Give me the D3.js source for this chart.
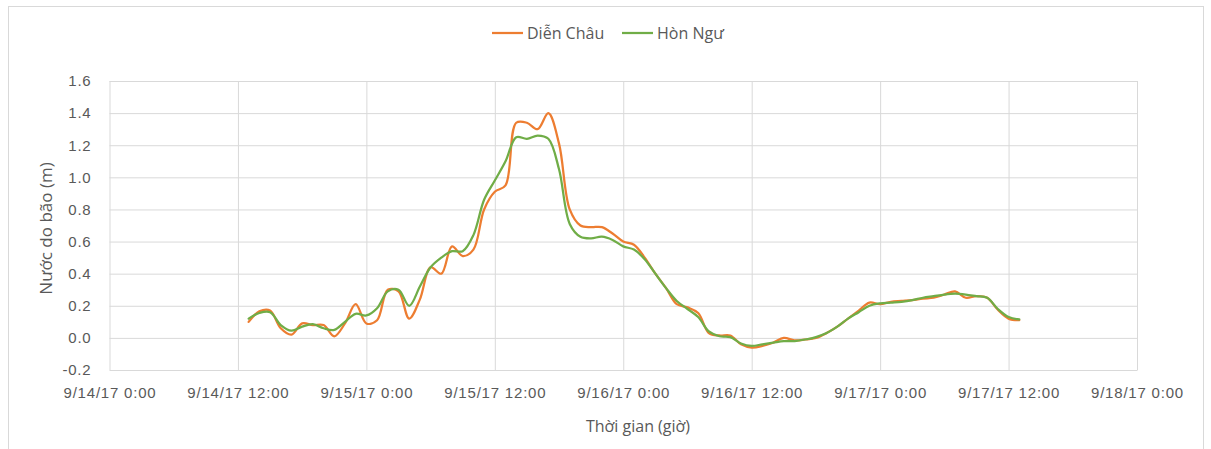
<!DOCTYPE html>
<html>
<head>
<meta charset="utf-8">
<script src="https://cdn.jsdelivr.net/npm/d3@7"></script>
<style>
  body { margin: 0; background: #fff; }
  svg { display: block; font-family: "Open Sans", sans-serif; }
</style>
</head>
<body>
<div id="chart-container"></div>
<script>
const W = 1211, H = 449;
const margin = { top: 81, right: 74, bottom: 79, left: 109.5 };
const width = W - margin.left - margin.right;
const height = H - margin.top - margin.bottom;

// hours counted from 9/14/17 0:00
const hours = [13, 14, 15, 16, 17, 18, 19, 20, 21, 22, 23, 24, 25, 26, 27, 28, 29, 30, 31, 32,
  33, 34, 35, 36, 37, 38, 39, 40, 41, 42, 43, 44, 45, 46, 47, 48, 49, 50, 51, 52,
  53, 54, 55, 56, 57, 58, 59, 60, 61, 62, 63, 64, 65, 66, 67, 68, 69, 70, 71, 72,
  73, 74, 75, 76, 77, 78, 79, 80, 81, 82, 83, 84, 85];

const dienChau = [0.10, 0.165, 0.17, 0.06, 0.02, 0.09, 0.08, 0.08, 0.01, 0.09, 0.21, 0.09, 0.11, 0.30, 0.29, 0.12, 0.24, 0.44, 0.40, 0.57,
  0.51, 0.55, 0.80, 0.91, 0.95, 1.34, 1.34, 1.30, 1.40, 1.21, 0.80, 0.70, 0.69, 0.69, 0.65, 0.60, 0.58, 0.50, 0.40, 0.31,
  0.21, 0.19, 0.155, 0.03, 0.015, 0.015, -0.04, -0.06, -0.05, -0.03, 0.00, -0.015, -0.01, 0.00, 0.03, 0.07, 0.12, 0.17, 0.22, 0.21,
  0.225, 0.23, 0.235, 0.245, 0.25, 0.27, 0.29, 0.25, 0.26, 0.25, 0.175, 0.12, 0.11];

const honNgu = [0.12, 0.155, 0.16, 0.08, 0.045, 0.07, 0.085, 0.06, 0.05, 0.10, 0.15, 0.14, 0.185, 0.29, 0.30, 0.20, 0.32, 0.44, 0.50, 0.54,
  0.54, 0.64, 0.86, 0.98, 1.10, 1.25, 1.24, 1.26, 1.24, 1.05, 0.71, 0.63, 0.62, 0.63, 0.61, 0.57, 0.55, 0.49, 0.40, 0.31,
  0.23, 0.18, 0.13, 0.04, 0.01, 0.005, -0.035, -0.05, -0.04, -0.03, -0.02, -0.02, -0.01, 0.005, 0.03, 0.07, 0.12, 0.16, 0.20, 0.215,
  0.22, 0.225, 0.235, 0.25, 0.26, 0.27, 0.275, 0.27, 0.26, 0.25, 0.18, 0.13, 0.115];

const seriesNames = ["Diễn Châu", "Hòn Ngư"];
const colors = ["#ED7D31", "#70AD47"];
const yTicks = [-0.2, 0, 0.2, 0.4, 0.6, 0.8, 1.0, 1.2, 1.4, 1.6];
const xTicks = ["2017-09-14T00:00", "2017-09-14T12:00", "2017-09-15T00:00", "2017-09-15T12:00", "2017-09-16T00:00",
  "2017-09-16T12:00", "2017-09-17T00:00", "2017-09-17T12:00", "2017-09-18T00:00"];

const parse = d3.timeParse("%Y-%m-%dT%H:%M");
const start = parse(xTicks[0]);
const tickDates = xTicks.map(parse);

const x = d3.scaleTime().domain([tickDates[0], tickDates[tickDates.length - 1]]).range([0, width]);
const y = d3.scaleLinear().domain([-0.2, 1.6]).range([height, 0]);

const svg = d3.select("#chart-container")
  .append("svg")
    .attr("width", W)
    .attr("height", H);

// chart area border
svg.append("rect")
  .attr("x", 8.5).attr("y", 6.5)
  .attr("width", 1195).attr("height", 470)
  .attr("fill", "none")
  .attr("stroke", "#D9D9D9");

const g = svg.append("g")
  .attr("transform", `translate(${margin.left},${margin.top})`);

const yAxis = g.append("g")
  .call(d3.axisLeft(y).tickValues(yTicks).tickSize(-width).tickSizeOuter(0).tickPadding(18)
    .tickFormat(d => d.toFixed(1)));
yAxis.select(".domain").remove();

const xAxis = g.append("g")
  .attr("transform", `translate(0,${height})`)
  .call(d3.axisBottom(x).tickValues(tickDates).tickSize(-height).tickSizeOuter(0).tickPadding(17)
    .tickFormat(d3.timeFormat("%-m/%-d/%y %-H:%M")));

g.selectAll(".tick line").attr("stroke", "#D9D9D9");
xAxis.select(".domain").attr("stroke", "#D9D9D9");
g.selectAll(".tick text")
  .attr("fill", "#595959")
  .style("font-size", "15px")
  .style("letter-spacing", "0.8px");

const line = d3.line()
  .x((d, i) => x(d3.timeHour.offset(start, hours[i])))
  .y(d => y(d))
  .curve(d3.curveCatmullRom);

[dienChau, honNgu].forEach((vals, k) => {
  g.append("path")
    .datum(vals)
    .attr("fill", "none")
    .attr("stroke", colors[k])
    .attr("stroke-width", 2.25)
    .attr("stroke-linejoin", "round")
    .attr("stroke-linecap", "round")
    .attr("d", line);
});

// axis titles
svg.append("text")
  .attr("transform", `translate(52,${margin.top + height / 2 + 3}) rotate(-90)`)
  .attr("text-anchor", "middle")
  .attr("fill", "#595959")
  .style("font-size", "17px")
  .text("Nước do bão (m)");

svg.append("text")
  .attr("x", 638)
  .attr("y", 432)
  .attr("text-anchor", "middle")
  .attr("fill", "#595959")
  .style("font-size", "16px")
  .text("Thời gian (giờ)");

// legend
const legendX = [492, 622];
seriesNames.forEach((name, k) => {
  const lg = svg.append("g").attr("transform", `translate(${legendX[k]},33)`);
  lg.append("line")
    .attr("x1", 0).attr("x2", 31)
    .attr("stroke", colors[k])
    .attr("stroke-width", 2.25);
  lg.append("text")
    .attr("x", 35)
    .attr("dy", "0.36em")
    .attr("fill", "#595959")
    .style("font-size", "16px")
    .text(name);
});
</script>
</body>
</html>
